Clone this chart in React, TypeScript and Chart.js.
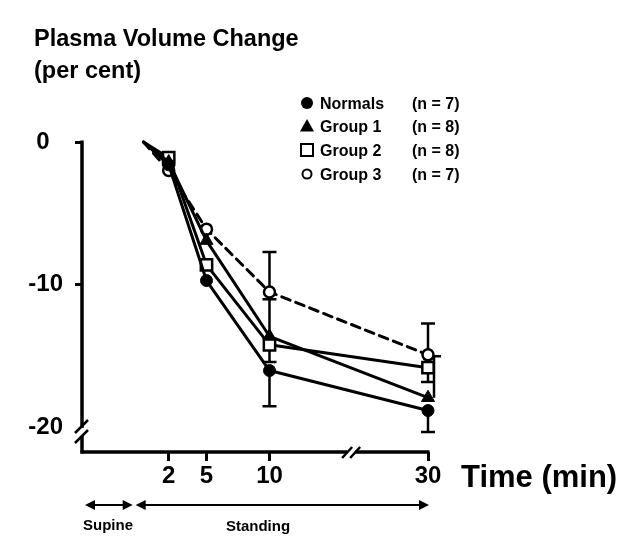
import React, { useEffect, useRef } from 'react';
import { Chart, registerables } from 'chart.js';

Chart.register(...registerables);

// ---- data ----
const times = [0, 2, 5, 10, 30];
const groupNames = ['Normals', 'Group 1', 'Group 2', 'Group 3'];
const groupN = ['(n = 7)', '(n = 8)', '(n = 8)', '(n = 7)'];
const normals = [0, -1.6, -9.7, -16.0, -18.8];
const group1 = [0, -1.4, -6.9, -13.6, -17.9];
const group2 = [0, -1.1, -8.6, -14.2, -15.8];
const group3 = [0, -2.0, -6.1, -10.5, -14.9];
// error bar end values (null = no bar)
const normalsErr = [null, null, null, -18.5, -20.3];
const group1Err = [null, null, null, -11.0, -15.0];
const group2Err = [null, null, null, -15.4, -16.8];
const group3Err = [null, null, null, -7.7, -12.7];
const xTickTimes = [2, 5, 10, 30];
const xTickLabels = ['2', '5', '10', '30'];
const yTickValues = [0, -10, -20];
const yTickLabels = ['0', '-10', '-20'];

// broken time axis: 10..30 compressed
const axisPos = (t: number) => (t <= 10 ? t : 10 + (t - 10) * 0.629);

const FONT = '"Liberation Sans", Arial, Helvetica, sans-serif';
const seriesValues = [normals, group1, group2, group3];
const seriesErr = [normalsErr, group1Err, group2Err, group3Err];
const errDx = [[0, 0, 0, 0, 0], [0, 0, 0, 0, 6], [0, 0, 0, 0, 0], [0, 0, 0, 0, 0]];

function drawMarker(ctx: CanvasRenderingContext2D, kind: number, x: number, y: number) {
  ctx.save();
  ctx.strokeStyle = '#000';
  ctx.fillStyle = '#000';
  ctx.lineWidth = 2;
  if (kind === 0) {
    ctx.beginPath();
    ctx.arc(x, y, 6, 0, Math.PI * 2);
    ctx.fill();
  } else if (kind === 1) {
    ctx.beginPath();
    ctx.moveTo(x, y - 7);
    ctx.lineTo(x + 7, y + 5.5);
    ctx.lineTo(x - 7, y + 5.5);
    ctx.closePath();
    ctx.fill();
  } else if (kind === 2) {
    ctx.fillStyle = '#fff';
    ctx.fillRect(x - 6, y - 6, 12, 12);
    ctx.strokeRect(x - 6, y - 6, 12, 12);
  } else {
    ctx.fillStyle = '#fff';
    ctx.beginPath();
    ctx.arc(x, y, 4.5, 0, Math.PI * 2);
    ctx.fill();
    ctx.stroke();
  }
  ctx.restore();
}

const errorBarPlugin = {
  id: 'errorBars',
  beforeDatasetsDraw(chart: any) {
    const { ctx, scales } = chart;
    const x = scales.x, y = scales.y;
    ctx.save();
    ctx.strokeStyle = '#000';
    ctx.lineWidth = 2.5;
    seriesErr.forEach((errs, si) => {
      errs.forEach((e, j) => {
        if (e === null) return;
        const px = x.getPixelForValue(axisPos(times[j])) + errDx[si][j];
        const p1 = y.getPixelForValue(seriesValues[si][j]);
        const p2 = y.getPixelForValue(e as number);
        ctx.beginPath();
        ctx.moveTo(px, p1);
        ctx.lineTo(px, p2);
        ctx.moveTo(px - 7, p2);
        ctx.lineTo(px + 7, p2);
        ctx.stroke();
      });
    });
    ctx.restore();
  },
};

const decorPlugin = {
  id: 'decor',
  afterDraw(chart: any) {
    const { ctx, chartArea: a, scales } = chart;
    const x = scales.x, y = scales.y;
    ctx.save();
    ctx.strokeStyle = '#000';
    ctx.fillStyle = '#000';
    const seg = (x1: number, y1: number, x2: number, y2: number) => {
      ctx.beginPath();
      ctx.moveTo(x1, y1);
      ctx.lineTo(x2, y2);
      ctx.stroke();
    };
    // y axis with break
    const L = a.left, B = a.bottom;
    const yb = y.getPixelForValue(-20.3);
    ctx.lineWidth = 3.5;
    seg(L, a.top - 1.5, L, yb - 4);
    seg(L, yb + 4, L, B + 1.5);
    ctx.lineWidth = 2.5;
    seg(L - 7, yb + 1, L + 6, yb - 12);
    seg(L - 7, yb + 11, L + 6, yb - 2);
    // x axis with break
    const xb = x.getPixelForValue(axisPos(20.3));
    ctx.lineWidth = 3.5;
    seg(L - 1.5, B, xb - 4, B);
    seg(xb + 4, B, a.right + 1.5, B);
    ctx.lineWidth = 2.5;
    seg(xb - 9, B + 6, xb + 1, B - 5);
    seg(xb - 1, B + 6, xb + 9, B - 5);

    // title
    ctx.textAlign = 'left';
    ctx.textBaseline = 'alphabetic';
    ctx.font = `bold 23.5px ${FONT}`;
    ctx.fillText('Plasma Volume Change', 34, 46);
    ctx.fillText('(per cent)', 34, 78);

    // axis title
    ctx.font = `bold 31px ${FONT}`;
    ctx.fillText('Time (min)', 461, 487);

    // legend
    ctx.font = `bold 16px ${FONT}`;
    const rows = [103, 126, 150, 174];
    groupNames.forEach((g, i) => {
      drawMarker(ctx, i, 307, rows[i]);
      ctx.fillText(g, 320, rows[i] + 6);
      ctx.fillText(groupN[i], 412, rows[i] + 6);
    });

    // phase arrows
    const ay = 505;
    ctx.lineWidth = 2;
    const arrowHead = (tx: number, dir: number) => {
      ctx.beginPath();
      ctx.moveTo(tx, ay);
      ctx.lineTo(tx - dir * 10, ay - 5);
      ctx.lineTo(tx - dir * 10, ay + 5);
      ctx.closePath();
      ctx.fill();
    };
    const sL = L + 3, sR = x.getPixelForValue(-0.7) - 2, stL = sR + 3, stR = a.right + 1;
    seg(sL + 5, ay, sR - 5, ay);
    arrowHead(sL, -1);
    arrowHead(sR, 1);
    seg(stL + 5, ay, stR - 5, ay);
    arrowHead(stL, -1);
    arrowHead(stR, 1);
    ctx.font = `bold 15px ${FONT}`;
    ctx.textAlign = 'center';
    ctx.fillText('Supine', 108, 530);
    ctx.fillText('Standing', 258, 531);
    ctx.restore();
  },
};

export default function App() {
  const ref = useRef<HTMLCanvasElement | null>(null);
  useEffect(() => {
    if (!ref.current) return;
    document.body.style.margin = '0';
    const mk = (vals: number[]) => times.map((t, i) => ({ x: axisPos(t), y: vals[i] }));
    const common = {
      borderColor: '#000',
      borderWidth: 3,
      tension: 0,
      clip: false as any,
      borderJoinStyle: 'round' as const,
      borderCapStyle: 'round' as const,
      pointBorderColor: '#000',
    };
    const chart = new Chart(ref.current, {
      type: 'line',
      data: {
        datasets: [
          {
            ...common,
            label: groupNames[0],
            data: mk(normals),
            pointStyle: 'circle',
            pointRadius: [0, 6, 6, 6, 6],
            pointBackgroundColor: '#000',
            pointBorderWidth: 1,
          },
          {
            ...common,
            label: groupNames[1],
            data: mk(group1),
            pointStyle: 'triangle',
            pointRadius: [0, 7.5, 7.5, 7.5, 7.5],
            pointBackgroundColor: '#000',
            pointBorderWidth: 1,
          },
          {
            ...common,
            label: groupNames[2],
            data: mk(group2),
            pointStyle: 'rect',
            pointRadius: [0, 8, 8, 8, 8],
            pointBackgroundColor: '#fff',
            pointBorderWidth: 2.5,
          },
          {
            ...common,
            label: groupNames[3],
            data: mk(group3),
            borderDash: [9, 6],
            pointStyle: 'circle',
            pointRadius: [0, 5.5, 5.5, 5.5, 5.5],
            pointBackgroundColor: '#fff',
            pointBorderWidth: 2.5,
          },
        ],
      },
      options: {
        animation: false,
        responsive: false,
        layout: { padding: { top: 142, left: 0, right: 202, bottom: 46 } },
        plugins: { legend: { display: false }, tooltip: { enabled: false }, title: { display: false } },
        scales: {
          x: {
            type: 'linear',
            min: -4.88,
            max: axisPos(30),
            afterBuildTicks: (s: any) => {
              s.ticks = xTickTimes.map((t) => ({ value: axisPos(t) }));
            },
            afterFit: (s: any) => {
              s.height = 40;
            },
            border: { display: false },
            grid: { drawOnChartArea: false, drawTicks: true, tickLength: 9, lineWidth: 3, color: '#000' },
            ticks: {
              color: '#000',
              padding: 1,
              autoSkip: false,
              maxRotation: 0,
              font: { family: FONT, weight: 'bold', size: 24 },
              callback: (_v: any, i: number) => xTickLabels[i],
            },
          },
          y: {
            type: 'linear',
            min: -21.7,
            max: 0,
            afterBuildTicks: (s: any) => {
              s.ticks = yTickValues.map((v) => ({ value: v }));
            },
            afterFit: (s: any) => {
              s.width = 82;
            },
            border: { display: false },
            grid: {
              drawOnChartArea: false,
              drawTicks: true,
              tickLength: 7,
              lineWidth: 3,
              color: (c: any) => (c.tick && c.tick.value === -20 ? 'rgba(0,0,0,0)' : '#000'),
            },
            ticks: {
              color: '#000',
              padding: 12,
              autoSkip: false,
              font: { family: FONT, weight: 'bold', size: 24 },
              callback: (v: any) => {
                const lbl = yTickLabels[yTickValues.indexOf(Number(v))];
                return Number(v) === 0 ? lbl + '\u2007' : lbl;
              },
            },
          },
        },
      },
      plugins: [errorBarPlugin, decorPlugin],
    } as any);
    return () => chart.destroy();
  }, []);
  return (
    <div style={{ position: 'fixed', left: 0, top: 0, width: 630, height: 538, overflow: 'hidden', background: '#fff' }}>
      <canvas ref={ref} width={630} height={538} style={{ display: 'block', width: 630, height: 538 }} />
    </div>
  );
}
